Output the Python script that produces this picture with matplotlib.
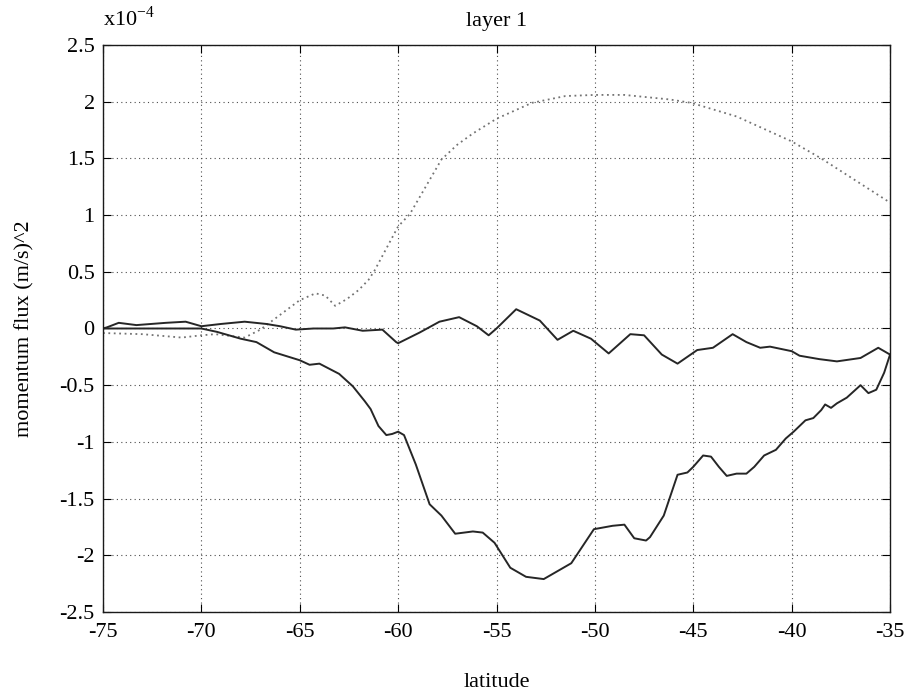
import numpy as np
import matplotlib
matplotlib.use("Agg")
import matplotlib.pyplot as plt

plt.rcParams['font.family'] = ['Liberation Serif', 'DejaVu Serif']
plt.rcParams['mathtext.fontset'] = 'custom'
plt.rcParams['mathtext.rm'] = 'Liberation Serif'

# dotted grey series (values in units of 1e-4)
lat_c = [-75, -73, -71, -70, -69.3, -67.8, -67, -66, -65, -64.2, -63.7, -63.2, -62.6,
         -62, -61.5, -61.2, -60, -59.4, -58.6, -57.8, -57, -56.2, -55, -53.2, -51.5,
         -50, -48.5, -46.2, -45.1, -42.8, -40, -38.5, -35]
flux_c = [-0.04, -0.05, -0.08, -0.06, -0.05, -0.08, -0.01, 0.12, 0.25, 0.31, 0.29, 0.20, 0.26,
          0.34, 0.43, 0.51, 0.90, 1.01, 1.25, 1.49, 1.62, 1.72, 1.85, 1.99, 2.05,
          2.06, 2.06, 2.02, 1.99, 1.87, 1.65, 1.50, 1.11]

# solid series oscillating near zero
lat_a = [-75, -74.8, -74.2, -73.3, -71.8, -70.8, -70, -69, -67.8, -66.7, -66, -65.2, -64.3,
         -63.3, -62.7, -61.8, -60.8, -60.1, -60, -58.9, -57.9, -56.9, -56, -55.4, -55,
         -54, -52.8, -51.9, -51.1, -50.2, -49.3, -48.2, -47.5, -46.6, -45.8, -44.8, -44.0,
         -43.0, -42.3, -41.6, -41.1, -40, -39.6, -38.6, -37.7, -36.5, -35.6, -35]
flux_a = [0.0, 0.01, 0.05, 0.03, 0.05, 0.06, 0.02, 0.04, 0.06, 0.04, 0.02, -0.01, 0.0,
          0.0, 0.01, -0.02, -0.01, -0.12, -0.13, -0.035, 0.06, 0.10, 0.02, -0.06, 0.0,
          0.17, 0.07, -0.10, -0.02, -0.09, -0.22, -0.05, -0.06, -0.23, -0.31, -0.19, -0.17,
          -0.05, -0.12, -0.17, -0.16, -0.20, -0.24, -0.27, -0.29, -0.26, -0.17, -0.23]

# solid series with the deep trough
lat_b = [-75, -70, -69.2, -68, -67.2, -66.3, -65, -64.5, -64, -63, -62.3, -61.7, -61.4,
         -61, -60.6, -60.3, -60, -59.7, -59.1, -58.4, -57.8, -57.1, -56.2, -55.7, -55.1,
         -54.3, -53.5, -52.6, -51.8, -51.2, -50.05, -49.1, -48.5, -48.0, -47.4, -47.2,
         -46.5, -45.8, -45.3, -45.0, -44.5, -44.1, -43.7, -43.3, -42.8, -42.3, -41.9,
         -41.4, -40.8, -40.3, -39.9, -39.3, -38.9, -38.5, -38.3, -38.0, -37.7, -37.2,
         -36.5, -36.1, -35.7, -35.3, -35]
flux_b = [0.0, 0.0, -0.03, -0.09, -0.12, -0.21, -0.28, -0.32, -0.31, -0.40, -0.51, -0.64, -0.71,
          -0.86, -0.94, -0.93, -0.91, -0.94, -1.20, -1.55, -1.65, -1.81, -1.79, -1.80, -1.89,
          -2.11, -2.19, -2.21, -2.13, -2.07, -1.77, -1.74, -1.73, -1.85, -1.87, -1.84,
          -1.65, -1.29, -1.27, -1.22, -1.12, -1.13, -1.22, -1.30, -1.28, -1.28, -1.22,
          -1.12, -1.07, -0.97, -0.91, -0.81, -0.79, -0.72, -0.67, -0.70, -0.66, -0.61,
          -0.50, -0.57, -0.54, -0.39, -0.23]

xticks = [-75, -70, -65, -60, -55, -50, -45, -40, -35]
yticks = [-2.5, -2, -1.5, -1, -0.5, 0, 0.5, 1, 1.5, 2, 2.5]
ytick_labels = ['-2.5', '-2', '-1.5', '-1', '-0.5', '0', '0.5', '1', '1.5', '2', '2.5']
xtick_labels = ['-75', '-70', '-65', '-60', '-55', '-50', '-45', '-40', '-35']

fig = plt.figure(figsize=(9.21, 6.97), dpi=100)
ax = fig.add_axes([0.1118, 0.122, 0.8546, 0.8134])

ax.plot(lat_c, flux_c, color='0.45', linestyle=(0, (1, 2)), linewidth=1.3)
ax.plot(lat_a, flux_a, color='0.15', linewidth=1.4)
ax.plot(lat_b, flux_b, color='0.15', linewidth=1.4)

ax.set_xlim(-75, -35)
ax.set_ylim(-2.5, 2.5)
ax.set_xticks(xticks)
ax.set_xticklabels(xtick_labels)
ax.set_yticks(yticks)
ax.set_yticklabels(ytick_labels)
ax.grid(True, color='0.3', linestyle=(0, (1, 3)), linewidth=0.8)
ax.tick_params(direction='in', length=6, top=True, right=True, labelsize=16)
ax.tick_params(axis='x', pad=8)
ax.tick_params(axis='y', pad=6)
for s in ax.spines.values():
    s.set_linewidth(1.0)
    s.set_color('0.1')

ax.set_xlabel('latitude', fontsize=16, labelpad=22)
ax.set_ylabel('momentum flux (m/s)^2', fontsize=16, labelpad=18)
ax.set_title('layer 1', fontsize=16, pad=14)
ax.text(0.0, 1.025, r'x10$^{\mathregular{-4}}$', transform=ax.transAxes,
        fontsize=16, ha='left', va='bottom')

fig.savefig('out.png', dpi=100)
